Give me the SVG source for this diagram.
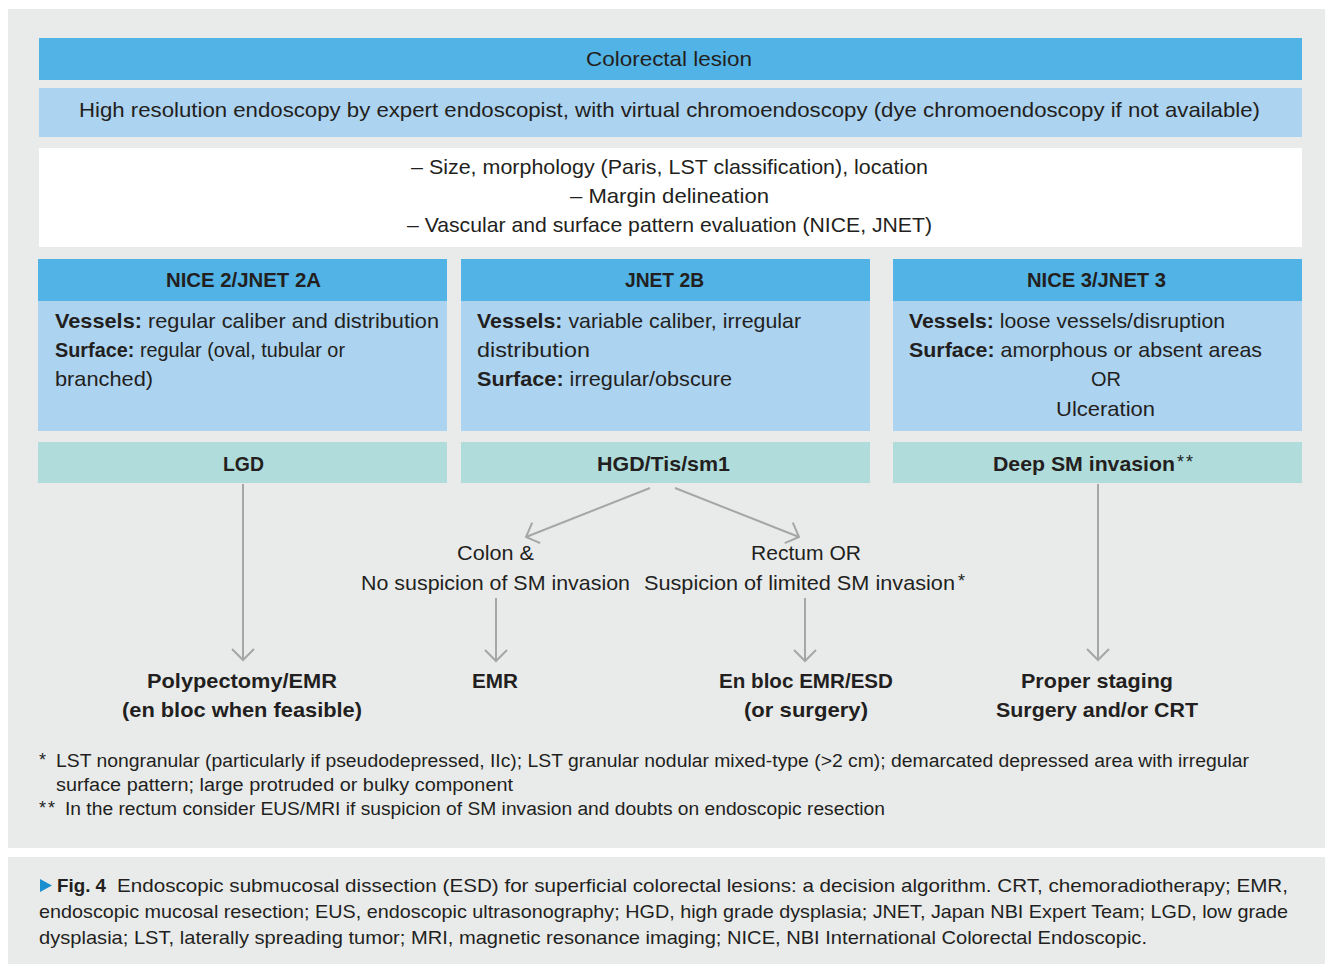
<svg xmlns="http://www.w3.org/2000/svg" width="1325" height="964" viewBox="0 0 1325 964">
<style>
text{font-family:"Liberation Sans",Arial,sans-serif;fill:#231f20;}
.t{font-size:21px;}
.b{font-weight:bold;}
.c{text-anchor:middle;}
.f{font-size:18px;}
.cap{font-size:19px;}
.ast{font-size:18px;letter-spacing:2px;}
.hdr{fill:#52b3e6;}
.lb{fill:#acd3f0;}
.tl{fill:#b0dcdb;}
.con line{stroke:#a5a7a7;stroke-width:2;fill:none;marker-end:url(#ah);}
</style>
<defs>
<marker id="ah" markerUnits="userSpaceOnUse" markerWidth="30" markerHeight="30" viewBox="-15 -15 30 30" refX="0" refY="0" orient="auto" overflow="visible">
<path d="M-11,-11 L0,0 L-11,11" fill="none" stroke="#a5a7a7" stroke-width="2"/>
</marker>
</defs>
<rect x="0" y="0" width="1325" height="964" fill="#ffffff"/>
<rect x="8" y="9" width="1317" height="839" fill="#e9ebeb"/>
<rect x="8" y="857" width="1317" height="107" fill="#e9ebeb"/>

<g id="n-colorectal">
<rect class="hdr" x="39" y="38" width="1263" height="42"/>
<text class="t c" x="669" y="66" textLength="166" lengthAdjust="spacingAndGlyphs">Colorectal lesion</text>
</g>
<g id="n-endoscopy">
<rect class="lb" x="39" y="88" width="1263" height="49"/>
<text class="t c" x="669.5" y="117" textLength="1181" lengthAdjust="spacingAndGlyphs">High resolution endoscopy by expert endoscopist, with virtual chromoendoscopy (dye chromoendoscopy if not available)</text>
</g>
<g id="n-evaluation">
<rect x="39" y="148" width="1263" height="99" fill="#ffffff"/>
<text class="t c" x="669.5" y="174" textLength="517" lengthAdjust="spacingAndGlyphs">– Size, morphology (Paris, LST classification), location</text>
<text class="t c" x="669.5" y="203" textLength="199" lengthAdjust="spacingAndGlyphs">– Margin delineation</text>
<text class="t c" x="669.5" y="232" textLength="525" lengthAdjust="spacingAndGlyphs">– Vascular and surface pattern evaluation (NICE, JNET)</text>
</g>

<g id="n-nice2">
<rect class="hdr" x="38" y="259" width="409" height="42"/>
<rect class="lb" x="38" y="301" width="409" height="130"/>
<text class="t b c" x="243.5" y="287" textLength="155" lengthAdjust="spacingAndGlyphs">NICE 2/JNET 2A</text>
<text class="t" x="55" y="328" textLength="384" lengthAdjust="spacingAndGlyphs"><tspan class="b">Vessels:</tspan> regular caliber and distribution</text>
<text class="t" x="55" y="357" textLength="290" lengthAdjust="spacingAndGlyphs"><tspan class="b">Surface:</tspan> regular (oval, tubular or</text>
<text class="t" x="55" y="386" textLength="98" lengthAdjust="spacingAndGlyphs">branched)</text>
</g>
<g id="n-jnet2b">
<rect class="hdr" x="461" y="259" width="409" height="42"/>
<rect class="lb" x="461" y="301" width="409" height="130"/>
<text class="t b c" x="664.5" y="287" textLength="79" lengthAdjust="spacingAndGlyphs">JNET 2B</text>
<text class="t" x="477" y="328" textLength="324" lengthAdjust="spacingAndGlyphs"><tspan class="b">Vessels:</tspan> variable caliber, irregular</text>
<text class="t" x="477" y="357" textLength="113" lengthAdjust="spacingAndGlyphs">distribution</text>
<text class="t" x="477" y="386" textLength="255" lengthAdjust="spacingAndGlyphs"><tspan class="b">Surface:</tspan> irregular/obscure</text>
</g>
<g id="n-nice3">
<rect class="hdr" x="893" y="259" width="409" height="42"/>
<rect class="lb" x="893" y="301" width="409" height="130"/>
<text class="t b c" x="1096.5" y="287" textLength="139" lengthAdjust="spacingAndGlyphs">NICE 3/JNET 3</text>
<text class="t" x="909" y="328" textLength="316" lengthAdjust="spacingAndGlyphs"><tspan class="b">Vessels:</tspan> loose vessels/disruption</text>
<text class="t" x="909" y="357" textLength="353" lengthAdjust="spacingAndGlyphs"><tspan class="b">Surface:</tspan> amorphous or absent areas</text>
<text class="t c" x="1106" y="386" textLength="30" lengthAdjust="spacingAndGlyphs">OR</text>
<text class="t c" x="1105.5" y="416" textLength="99" lengthAdjust="spacingAndGlyphs">Ulceration</text>
</g>

<g id="n-lgd">
<rect class="tl" x="38" y="442" width="409" height="41"/>
<text class="t b c" x="243.5" y="471" textLength="41" lengthAdjust="spacingAndGlyphs">LGD</text>
</g>
<g id="n-hgd">
<rect class="tl" x="461" y="442" width="409" height="41"/>
<text class="t b c" x="663.5" y="471" textLength="133" lengthAdjust="spacingAndGlyphs">HGD/Tis/sm1</text>
</g>
<g id="n-deep">
<rect class="tl" x="893" y="442" width="409" height="41"/>
<text class="t b" x="993" y="471" textLength="182" lengthAdjust="spacingAndGlyphs">Deep SM invasion</text>
<text class="ast" x="1177" y="468">**</text>
</g>

<g id="n-colon">
<text class="t c" x="495.5" y="560" textLength="77" lengthAdjust="spacingAndGlyphs">Colon &amp;</text>
<text class="t c" x="495.5" y="590" textLength="269" lengthAdjust="spacingAndGlyphs">No suspicion of SM invasion</text>
</g>
<g id="n-rectum">
<text class="t c" x="806" y="560" textLength="110" lengthAdjust="spacingAndGlyphs">Rectum OR</text>
<text class="t" x="644" y="590" textLength="311" lengthAdjust="spacingAndGlyphs">Suspicion of limited SM invasion</text>
<text class="ast" x="958" y="587">*</text>
</g>

<g id="n-polypectomy">
<text class="t b c" x="242" y="688" textLength="190" lengthAdjust="spacingAndGlyphs">Polypectomy/EMR</text>
<text class="t b c" x="242" y="717" textLength="240" lengthAdjust="spacingAndGlyphs">(en bloc when feasible)</text>
</g>
<g id="n-emr">
<text class="t b c" x="495" y="688" textLength="46" lengthAdjust="spacingAndGlyphs">EMR</text>
</g>
<g id="n-enbloc">
<text class="t b c" x="806" y="688" textLength="174" lengthAdjust="spacingAndGlyphs">En bloc EMR/ESD</text>
<text class="t b c" x="806" y="717" textLength="124" lengthAdjust="spacingAndGlyphs">(or surgery)</text>
</g>
<g id="n-staging">
<text class="t b c" x="1097" y="688" textLength="152" lengthAdjust="spacingAndGlyphs">Proper staging</text>
<text class="t b c" x="1097" y="717" textLength="202" lengthAdjust="spacingAndGlyphs">Surgery and/or CRT</text>
</g>

<g id="connectors" class="con">
<line x1="243" y1="484" x2="243" y2="660"/>
<line x1="1098" y1="484" x2="1098" y2="660"/>
<line x1="650" y1="488" x2="526" y2="537"/>
<line x1="675" y1="488" x2="799" y2="537"/>
<line x1="496" y1="598" x2="496" y2="661"/>
<line x1="805" y1="598" x2="805" y2="661"/>
</g>

<g id="footnotes">
<text class="ast" x="39" y="766">*</text>
<text class="f" x="56" y="767" textLength="1193" lengthAdjust="spacingAndGlyphs">LST nongranular (particularly if pseudodepressed, IIc); LST granular nodular mixed-type (&gt;2 cm); demarcated depressed area with irregular</text>
<text class="f" x="56" y="791" textLength="457" lengthAdjust="spacingAndGlyphs">surface pattern; large protruded or bulky component</text>
<text class="ast" x="39" y="814">**</text>
<text class="f" x="65" y="815" textLength="820" lengthAdjust="spacingAndGlyphs">In the rectum consider EUS/MRI if suspicion of SM invasion and doubts on endoscopic resection</text>
</g>

<g id="caption">
<path d="M40,879 L52,885.5 L40,892 Z" fill="#1a8fd0"/>
<text class="cap b" x="57" y="892" textLength="49" lengthAdjust="spacingAndGlyphs">Fig. 4</text>
<text class="cap" x="117" y="892" textLength="1171" lengthAdjust="spacingAndGlyphs">Endoscopic submucosal dissection (ESD) for superficial colorectal lesions: a decision algorithm. CRT, chemoradiotherapy; EMR,</text>
<text class="cap" x="39" y="918" textLength="1249" lengthAdjust="spacingAndGlyphs">endoscopic mucosal resection; EUS, endoscopic ultrasonography; HGD, high grade dysplasia; JNET, Japan NBI Expert Team; LGD, low grade</text>
<text class="cap" x="39" y="944" textLength="1108" lengthAdjust="spacingAndGlyphs">dysplasia; LST, laterally spreading tumor; MRI, magnetic resonance imaging; NICE, NBI International Colorectal Endoscopic.</text>
</g>
</svg>
